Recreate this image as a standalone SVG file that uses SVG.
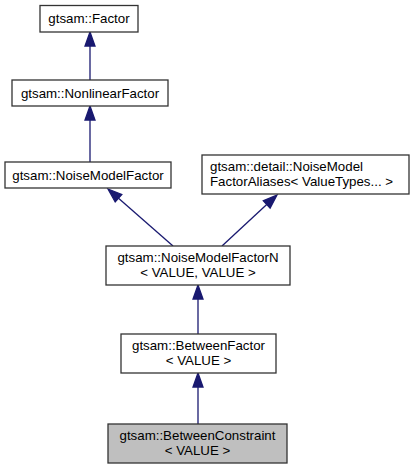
<svg xmlns="http://www.w3.org/2000/svg" width="413" height="469" viewBox="0 0 413 469">
<style>
.box{fill:#ffffff;stroke:#333333;stroke-width:1.3}
.hl{fill:#bfbfbf;stroke:#333333;stroke-width:1.3}
text{font-family:"Liberation Sans",Arial,Helvetica,sans-serif;font-size:13.3px;fill:#000000}
.c{text-anchor:middle}
.edge{stroke:#191970;stroke-width:1.3;fill:none}
.head{fill:#191970;stroke:#191970;stroke-width:1.3}
</style>
<rect width="413" height="469" fill="#ffffff"/>
<g id="connectors">
<line class="edge" x1="90" y1="80" x2="90" y2="46"/>
<polygon class="head" points="90,32 95,46 85,46"/>
<line class="edge" x1="90" y1="162" x2="90" y2="120"/>
<polygon class="head" points="90,106 95,120 85,120"/>
<line class="edge" x1="173" y1="246" x2="118.5" y2="198.2"/>
<polygon class="head" points="108,189 121.8,194.5 115.2,202"/>
<line class="edge" x1="222" y1="246" x2="266.7" y2="204.5"/>
<polygon class="head" points="277,195 270.1,208.2 263.3,200.8"/>
<line class="edge" x1="198" y1="334" x2="198" y2="299"/>
<polygon class="head" points="198,285 203,299 193,299"/>
<line class="edge" x1="198" y1="424" x2="198" y2="387"/>
<polygon class="head" points="198,373 203,387 193,387"/>
</g>
<g id="node-factor">
<rect class="box" x="40" y="5.5" width="98" height="26.5"/>
<text class="c" x="89" y="23">gtsam::Factor</text>
</g>
<g id="node-nonlinearfactor">
<rect class="box" x="12" y="80" width="156" height="26"/>
<text class="c" x="90" y="98">gtsam::NonlinearFactor</text>
</g>
<g id="node-noisemodelfactor">
<rect class="box" x="5" y="162" width="166" height="26"/>
<text class="c" x="88" y="180">gtsam::NoiseModelFactor</text>
</g>
<g id="node-aliases">
<rect class="box" x="202" y="155" width="207" height="39"/>
<text x="210" y="171">gtsam::detail::NoiseModel</text>
<text x="210" y="185.5">FactorAliases&lt; ValueTypes... &gt;</text>
</g>
<g id="node-noisemodelfactorn">
<rect class="box" x="106" y="246" width="184" height="39"/>
<text class="c" x="198" y="262">gtsam::NoiseModelFactorN</text>
<text class="c" x="198" y="276.5">&lt; VALUE, VALUE &gt;</text>
</g>
<g id="node-betweenfactor">
<rect class="box" x="121" y="334" width="155" height="39"/>
<text class="c" x="198.5" y="350">gtsam::BetweenFactor</text>
<text class="c" x="198.5" y="364.5">&lt; VALUE &gt;</text>
</g>
<g id="node-betweenconstraint">
<rect class="hl" x="108" y="424" width="179" height="39"/>
<text class="c" x="197.5" y="440">gtsam::BetweenConstraint</text>
<text class="c" x="197.5" y="454.5">&lt; VALUE &gt;</text>
</g>
</svg>
